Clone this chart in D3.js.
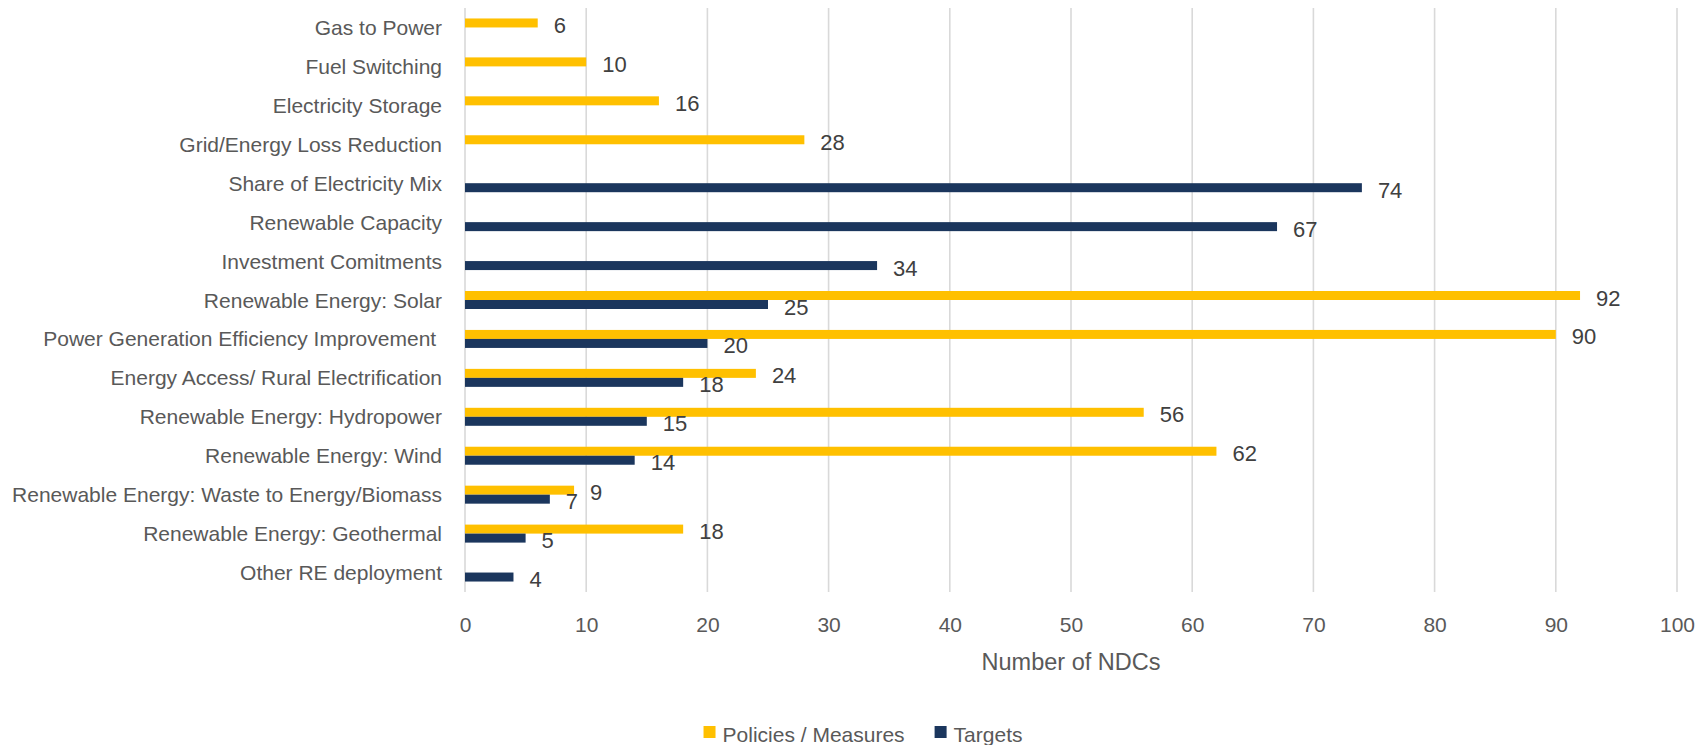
<!DOCTYPE html>
<html>
<head>
<meta charset="utf-8">
<script src="https://cdn.jsdelivr.net/npm/d3@7"></script>
<style>
  html, body { margin: 0; padding: 0; background: #ffffff; }
  svg { display: block; }
  text { font-family: "Liberation Sans", Arial, sans-serif; }
</style>
</head>
<body>
<svg id="chart" width="1698" height="745"></svg>
<script>
// ---- Data ----
const categories = [
  "Gas to Power",
  "Fuel Switching",
  "Electricity Storage",
  "Grid/Energy Loss Reduction",
  "Share of Electricity Mix",
  "Renewable Capacity",
  "Investment Comitments",
  "Renewable Energy: Solar",
  "Power Generation Efficiency Improvement ",
  "Energy Access/ Rural Electrification",
  "Renewable Energy: Hydropower",
  "Renewable Energy: Wind",
  "Renewable Energy: Waste to Energy/Biomass",
  "Renewable Energy: Geothermal",
  "Other RE deployment"
];
const policiesMeasures = [6, 10, 16, 28, null, null, null, 92, 90, 24, 56, 62, 9, 18, null];
const targets          = [null, null, null, null, 74, 67, 34, 25, 20, 18, 15, 14, 7, 5, 4];
const seriesNames = ["Policies / Measures", "Targets"];
const xTicks = [0, 10, 20, 30, 40, 50, 60, 70, 80, 90, 100];
const xTitle = "Number of NDCs";

// ---- Styles ----
const colors = { "Policies / Measures": "#FFC000", "Targets": "#1B365D" };
const W = 1698, H = 745;
const plot = { left: 465, right: 1677, top: 8, bottom: 592 };

const svg = d3.select("#chart");

const x = d3.scaleLinear().domain([0, 100]).range([plot.left, plot.right]);
const y = d3.scaleBand().domain(categories).range([plot.top, plot.bottom]).padding(0);
const barH = 9;
const outer = (y.bandwidth() - 2 * barH) / 2 / barH;
const ySub = d3.scaleBand().domain(seriesNames).range([0, y.bandwidth()])
  .paddingInner(0).paddingOuter(outer);

// gridlines
svg.append("g").selectAll("line").data(xTicks).join("line")
  .attr("x1", d => x(d)).attr("x2", d => x(d))
  .attr("y1", plot.top).attr("y2", plot.bottom)
  .attr("stroke", "#d9d9d9").attr("stroke-width", 1.6);

// bars
const seriesData = [
  { name: "Policies / Measures", values: policiesMeasures },
  { name: "Targets", values: targets }
];
const rows = [];
seriesData.forEach(s => s.values.forEach((v, i) => {
  if (v !== null) rows.push({ series: s.name, cat: categories[i], value: v });
}));

svg.append("g").selectAll("rect").data(rows).join("rect")
  .attr("x", x(0))
  .attr("y", d => y(d.cat) + ySub(d.series))
  .attr("width", d => x(d.value) - x(0))
  .attr("height", ySub.bandwidth())
  .attr("fill", d => colors[d.series]);

// value labels
svg.append("g").selectAll("text").data(rows).join("text")
  .attr("x", d => x(d.value) + 16)
  .attr("y", d => y(d.cat) + ySub(d.series) + ySub.bandwidth() / 2 + 2.5)
  .attr("dominant-baseline", "central")
  .attr("font-size", 22)
  .attr("fill", "#404040")
  .text(d => d.value);

// category labels (y axis)
const yAxis = d3.axisLeft(y).tickSize(0).tickPadding(0);
const yg = svg.append("g").attr("transform", `translate(442,0)`).call(yAxis);
yg.select(".domain").remove();
yg.selectAll("text")
  .attr("font-size", 21)
  .attr("fill", "#595959")
  .attr("font-family", '"Liberation Sans", Arial, sans-serif')
  .attr("dy", null)
  .attr("dominant-baseline", "central")
  .style("white-space", "pre");

// x axis tick labels
const xAxis = d3.axisBottom(x).tickValues(xTicks).tickSize(0).tickPadding(0).tickFormat(d3.format("d"));
const xg = svg.append("g").attr("transform", `translate(0,624)`).call(xAxis);
xg.select(".domain").remove();
xg.selectAll("text")
  .attr("font-size", 21)
  .attr("fill", "#595959")
  .attr("font-family", '"Liberation Sans", Arial, sans-serif')
  .attr("y", 0).attr("dy", null)
  .attr("dominant-baseline", "central");

// x title
svg.append("text")
  .attr("x", (plot.left + plot.right) / 2)
  .attr("y", 662)
  .attr("text-anchor", "middle")
  .attr("dominant-baseline", "central")
  .attr("font-size", 23.5)
  .attr("fill", "#595959")
  .text(xTitle);

// legend
const leg = svg.append("g");
const items = leg.selectAll("g").data(seriesNames).join("g");
items.append("rect").attr("width", 12).attr("height", 12).attr("fill", d => colors[d]);
items.append("text").attr("x", 19).attr("y", 15.5)
  .attr("font-size", 21).attr("fill", "#595959").text(d => d);
let cx = 0;
items.each(function () {
  const g = d3.select(this);
  const w = 19 + g.select("text").node().getComputedTextLength();
  g.attr("transform", `translate(${cx},726)`);
  cx += w + 30;
});
const total = cx - 30;
leg.attr("transform", `translate(${863 - total / 2},0)`);
</script>
</body>
</html>
